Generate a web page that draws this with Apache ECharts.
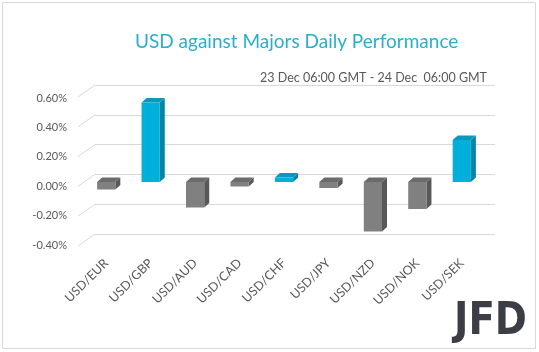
<!DOCTYPE html>
<html>
<head>
<meta charset="utf-8">
<script src="https://cdn.jsdelivr.net/npm/echarts@6/dist/echarts.min.js"></script>
<style>
html,body{margin:0;padding:0;background:#fff;}
#c{width:539px;height:352px;}
</style>
</head>
<body>
<div id="c"></div>
<script>
// ---- data ----
var categories = ['USD/EUR','USD/GBP','USD/AUD','USD/CAD','USD/CHF','USD/JPY','USD/NZD','USD/NOK','USD/SEK'];
var values = [-0.05, 0.53, -0.17, -0.03, 0.03, -0.04, -0.33, -0.18, 0.28];
var yTicks = [-0.4, -0.2, 0, 0.2, 0.4, 0.6];
var titleText = 'USD against Majors Daily Performance';
var subtitleText = '23 Dec 06:00 GMT - 24 Dec  06:00 GMT';

var FONT = 'Lato';
var DX = 5, DY = -4.5;          // bar depth
var WX = -17, WY = 12;          // wall depth (back -> front)

var blue = {front:'#00b0da', side:'#0386a6', top:'#0a98bd'};
var gray = {front:'#808080', side:'#585858', top:'#6b6b6b'};

var chart = echarts.init(document.getElementById('c'), null, {renderer:'canvas'});

function pctFmt(v){ return v.toFixed(2) + '%'; }

var option = {
  animation:false,
  backgroundColor:'#ffffff',
  title:[
    {text:titleText, left:130, top:27,
     textStyle:{fontFamily:FONT, fontSize:19, fontWeight:'normal', color:'#2aaed0'}},
    {text:subtitleText, right:47, top:66,
     textStyle:{fontFamily:FONT, fontSize:12.5, fontWeight:'normal', color:'#595959'}}
  ],
  graphic:[
    {type:'rect', shape:{x:2.5, y:2.5, width:533, height:346}, style:{fill:null, stroke:'#d9d9d9', lineWidth:1}, silent:true},
    {type:'text', x:454, y:301, scaleX:0.88, silent:true,
     style:{text:'JFD', font:'bold 44px "DejaVu Sans"', fill:'#3b3f45', textVerticalAlign:'top'}}
  ],
  grid:[
    {left:95, right:44, top:85, bottom:118},   // back wall
    {left:84, right:45, top:98, bottom:107},   // front labels
    {left:84, right:55, top:92, bottom:110}    // bars
  ],
  xAxis:[
    {gridIndex:0, type:'category', data:categories, show:false},
    {gridIndex:1, type:'category', data:categories, show:false},
    {gridIndex:2, type:'category', data:categories,
     axisLine:{show:false}, axisTick:{show:false},
     axisLabel:{rotate:45, margin:19, fontFamily:FONT, fontSize:12.5, color:'#595959', interval:0}}
  ],
  yAxis:[
    {gridIndex:0, type:'value', min:-0.4, max:0.6, interval:0.2,
     axisLine:{show:false}, axisTick:{show:false}, axisLabel:{show:false},
     splitLine:{lineStyle:{color:'#d9d9d9', width:1}}},
    {gridIndex:1, type:'value', min:-0.4, max:0.6, interval:0.2,
     axisLine:{show:false}, axisTick:{show:false}, splitLine:{show:false},
     axisLabel:{margin:17, fontFamily:FONT, fontSize:11, color:'#595959', formatter:pctFmt}},
    {gridIndex:2, type:'value', min:-0.4, max:0.6, interval:0.2, show:false, splitLine:{show:false}}
  ],
  series:[
    {
      type:'custom', xAxisIndex:0, yAxisIndex:0, silent:true,
      data:yTicks.map(function(v){return [0, v];}),
      renderItem:function(params, api){
        var p = api.coord([0, api.value(1)]);
        var band = api.size([1, 0])[0];
        var x = p[0] - band/2;
        return {type:'line', shape:{x1:x, y1:p[1], x2:x+WX, y2:p[1]+WY},
                style:{stroke:'#d9d9d9', lineWidth:1}};
      }
    },
    {
      type:'custom', xAxisIndex:2, yAxisIndex:2, silent:true,
      data:values.map(function(v, i){return [i, v];}),
      renderItem:function(params, api){
        var i = api.value(0), v = api.value(1);
        var pv = api.coord([i, v]);
        var p0 = api.coord([i, 0]);
        var band = api.size([1, 0])[0];
        var w = band * 0.41;
        var x0 = pv[0] - w/2, x1 = x0 + w;
        var yt = Math.min(pv[1], p0[1]), yb = Math.max(pv[1], p0[1]);
        var c = v >= 0 ? blue : gray;
        return {type:'group', children:[
          {type:'polygon', shape:{points:[[x1,yt],[x1+DX,yt+DY],[x1+DX,yb+DY],[x1,yb]]}, style:{fill:c.side}},
          {type:'polygon', shape:{points:[[x0,yt],[x0+DX,yt+DY],[x1+DX,yt+DY],[x1,yt]]}, style:{fill:c.top}},
          {type:'rect', shape:{x:x0, y:yt, width:w, height:yb-yt}, style:{fill:c.front}}
        ]};
      }
    }
  ]
};
chart.setOption(option);
</script>
</body>
</html>
